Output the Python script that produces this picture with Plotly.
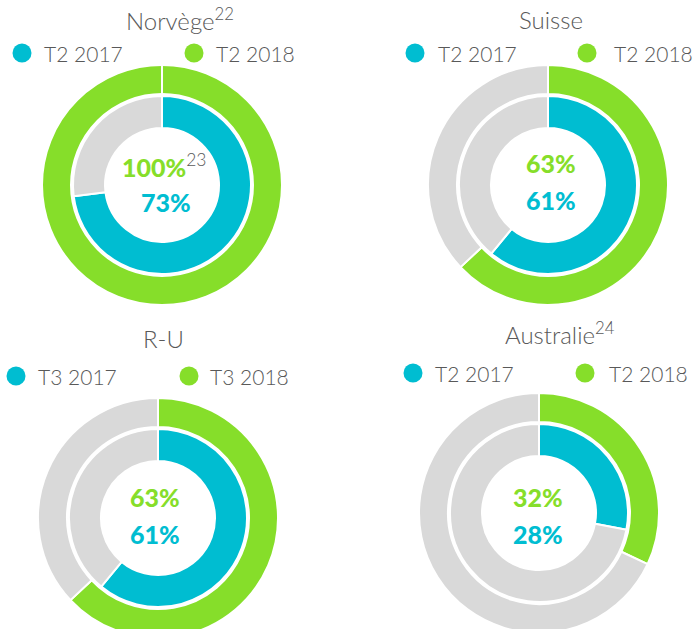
import plotly.graph_objects as go

# ---------------- data ----------------
countries = ["Norvège<sup>22</sup>", "Suisse", "R-U", "Australie<sup>24</sup>"]
labels_prev = ["T2 2017", "T2 2017", "T3 2017", "T2 2017"]
labels_curr = ["T2 2018", "T2 2018", "T3 2018", "T2 2018"]
values_prev = [73, 61, 61, 28]    # inner ring (previous year)
values_curr = [100, 63, 63, 32]   # outer ring (current year)
notes_curr = ["23", "", "", ""]   # footnote after the outer value

# ---------------- style / layout ----------------
W, H = 693, 640
GREEN = "#86DE2A"
CYAN = "#00BDD1"
GRAY = "#D9D9D9"
TXT = "#595959"
FONT = "Lato"

centers = [(162, 185), (548, 185), (158, 518), (539, 513)]
R_OUT, R_OUT_HOLE = 120, 91
R_IN, R_IN_HOLE = 89, 57

title_pos = [(180, 19), (551, 19), (163, 338), (560, 333)]
legend_y = [53, 53, 376, 373]
dot_x = [(22, 194), (415, 587), (16, 189), (413, 585)]
text_x = [(42, 214), (436, 612), (36, 208), (433, 607)]
center_x = [(164, 166), (551, 551), (155, 155), (538, 538)]
center_y = [(165, 202), (163, 200), (497, 534), (497, 534)]


def domain(cx, cy, r):
    return dict(x=[(cx - r) / W, (cx + r) / W],
                y=[1 - (cy + r) / H, 1 - (cy - r) / H])


fig = go.Figure()

for i in range(4):
    cx, cy = centers[i]
    for val, col, r, hole in [(values_curr[i], GREEN, R_OUT, R_OUT_HOLE),
                              (values_prev[i], CYAN, R_IN, R_IN_HOLE)]:
        fig.add_trace(go.Pie(
            values=[val, 100 - val],
            marker=dict(colors=[col, GRAY], line=dict(color="white", width=2)),
            hole=hole / r,
            sort=False,
            direction="clockwise",
            rotation=0,
            textinfo="none",
            hoverinfo="skip",
            showlegend=False,
            domain=domain(cx, cy, r),
        ))

# legend dots drawn on a hidden pixel-scaled cartesian axis
dx, dy, dc = [], [], []
for i in range(4):
    dx += [dot_x[i][0], dot_x[i][1]]
    dy += [legend_y[i], legend_y[i]]
    dc += [CYAN, GREEN]
fig.add_trace(go.Scatter(x=dx, y=dy, mode="markers",
                         marker=dict(size=19, color=dc, line=dict(width=0)),
                         hoverinfo="skip", showlegend=False))

ann = []
for i in range(4):
    tx, ty = title_pos[i]
    ann.append(dict(x=tx, y=ty, text=countries[i], showarrow=False,
                    xanchor="center", yanchor="middle",
                    font=dict(family=FONT, size=24, color=TXT, weight=300)))
    for j, lab in enumerate([labels_prev[i], labels_curr[i]]):
        ann.append(dict(x=text_x[i][j], y=legend_y[i], text=lab, showarrow=False,
                        xanchor="left", yanchor="middle",
                        font=dict(family=FONT, size=21, color=TXT, weight=300)))
    note = notes_curr[i]
    t1 = f"{values_curr[i]}%"
    if note:
        t1 += f"<span style='color:{TXT};font-weight:300'><sup>{note}</sup></span>"
    ann.append(dict(x=center_x[i][0], y=center_y[i][0], text=t1, showarrow=False,
                    xanchor="center", yanchor="middle",
                    font=dict(family=FONT, size=25, color=GREEN, weight=900)))
    ann.append(dict(x=center_x[i][1], y=center_y[i][1], text=f"{values_prev[i]}%",
                    showarrow=False, xanchor="center", yanchor="middle",
                    font=dict(family=FONT, size=25, color=CYAN, weight=900)))

fig.update_layout(
    width=W, height=H,
    margin=dict(l=0, r=0, t=0, b=0),
    paper_bgcolor="white", plot_bgcolor="rgba(0,0,0,0)",
    xaxis=dict(range=[0, W], visible=False, domain=[0, 1], fixedrange=True),
    yaxis=dict(range=[H, 0], visible=False, domain=[0, 1], fixedrange=True),
    annotations=ann,
    showlegend=False,
)

fig.write_html("out.html", config={"staticPlot": True},
               post_script="document.body.style.margin='0';document.body.style.overflow='hidden';")
